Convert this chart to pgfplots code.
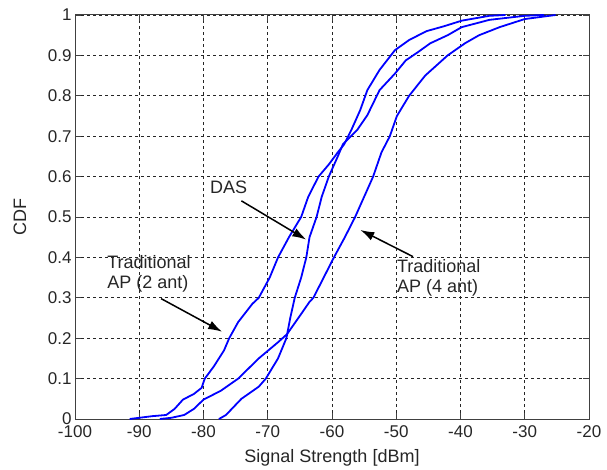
\documentclass[border=0pt]{standalone}
\usepackage{pgfplots}
\pgfplotsset{compat=1.18}
\usepackage{fontspec}
\setmainfont{Liberation Sans}
\usetikzlibrary{arrows.meta}

\begin{document}
\begin{tikzpicture}
\begin{axis}[
  scale only axis,
  width=514pt, height=404pt,
  xmin=-100, xmax=-20, ymin=0, ymax=1,
  xtick={-100,-90,...,-20},
  xticklabels={-100,-90,-80,-70,-60,-50,-40,-30,-20},
  ytick={0,0.1,...,1},
  yticklabels={0,0.1,0.2,0.3,0.4,0.5,0.6,0.7,0.8,0.9,1},
  tick align=inside,
  major tick length=6pt,
  tick style={black!75, line width=0.8pt},
  axis line style={black!75, line width=1pt},
  grid=major,
  major grid style={black!85, line width=0.8pt, dash pattern=on 3pt off 3pt},
  tick label style={font=\fontsize{17}{17}\selectfont, text=black!85},
  xticklabel style={yshift=-3pt},
  clip=false,
]
% Traditional AP (2 ant)
\addplot[blue, line width=1.8pt, mark=none] coordinates {(-91.5,0) (-90,0.003) (-88,0.007) (-85.8,0.01) (-84.5,0.025)
 (-83.2,0.048) (-81.5,0.062) (-80.3,0.077) (-79.8,0.1) (-78.4,0.13) (-76.8,0.17)
 (-76,0.2) (-74.6,0.24) (-72.4,0.285) (-71.4,0.3) (-69.7,0.35) (-68.4,0.4)
 (-66.7,0.45) (-64.8,0.5) (-63.7,0.55) (-62.1,0.6) (-60.5,0.63) (-59.1,0.66)
 (-58.1,0.68) (-57,0.715) (-55.6,0.765) (-54.5,0.814) (-52.6,0.864) (-50.2,0.913)
 (-48,0.938) (-45.3,0.96) (-42.6,0.972) (-39.8,0.986) (-35.5,0.998) (-33,1)};
% DAS
\addplot[blue, line width=1.8pt, mark=none] coordinates {(-77.6,0) (-76.5,0.01) (-74.1,0.05) (-71.4,0.08) (-70.3,0.1)
 (-68.4,0.15) (-67.1,0.2) (-66.5,0.25) (-65.8,0.3) (-64.8,0.35) (-64,0.4)
 (-63.5,0.45) (-62.4,0.5) (-61.6,0.55) (-60.5,0.6) (-59.1,0.65) (-58.3,0.68)
 (-56.1,0.715) (-54.5,0.752) (-52.6,0.814) (-50.2,0.855) (-48.5,0.888)
 (-46.9,0.905) (-44.7,0.93) (-42,0.95) (-39.8,0.97) (-35.5,0.988) (-30,0.998) (-27,1)};
% Traditional AP (4 ant)
\addplot[blue, line width=1.8pt, mark=none] coordinates {(-86.8,0) (-85,0.003) (-83,0.01) (-81.5,0.025) (-80,0.048)
 (-77.3,0.07) (-74.6,0.1) (-71.4,0.15) (-68.4,0.19) (-67,0.21) (-64.8,0.26)
 (-63.5,0.29) (-62.9,0.3) (-61.3,0.35) (-59.7,0.4) (-58,0.45) (-56.4,0.5)
 (-55,0.55) (-53.6,0.6) (-52.3,0.66) (-51,0.7) (-49.9,0.75) (-48,0.8)
 (-45.5,0.85) (-42,0.9) (-39.3,0.93) (-37.1,0.95) (-33.9,0.97) (-30,0.99) (-25.2,1)};

\begin{scope}[font=\fontsize{18}{20}\selectfont, text=black!85]
\node[anchor=base west, inner sep=0pt] at (axis cs:-79,0.557) {DAS};
\node[anchor=north west, inner sep=0pt, align=left] at (axis cs:-95,0.405) {Traditional\\AP (2 ant)};
\node[anchor=north west, inner sep=0pt, align=left] at (axis cs:-49.9,0.395) {Traditional\\AP (4 ant)};
\node[anchor=center] at ([yshift=-39pt]rel axis cs:0.5,0) {Signal Strength [dBm]};
\node[anchor=center, rotate=90] at ([xshift=-55pt]rel axis cs:0,0.5) {CDF};
\end{scope}
\draw[black, line width=1.5pt, -{Latex[length=14pt, width=9pt]}] (axis cs:-74.1,0.54) -- (axis cs:-64,0.444);
\draw[black, line width=1.5pt, -{Latex[length=14pt, width=9pt]}] (axis cs:-47.4,0.402) -- (axis cs:-55.6,0.468);
\draw[black, line width=1.5pt, -{Latex[length=14pt, width=9pt]}] (axis cs:-86.6,0.298) -- (axis cs:-77.1,0.216);

\path (rel axis cs:0,0) ++(-75pt,-49pt) (rel axis cs:1,1) ++(18pt,15pt);
\end{axis}
\end{tikzpicture}
\end{document}
